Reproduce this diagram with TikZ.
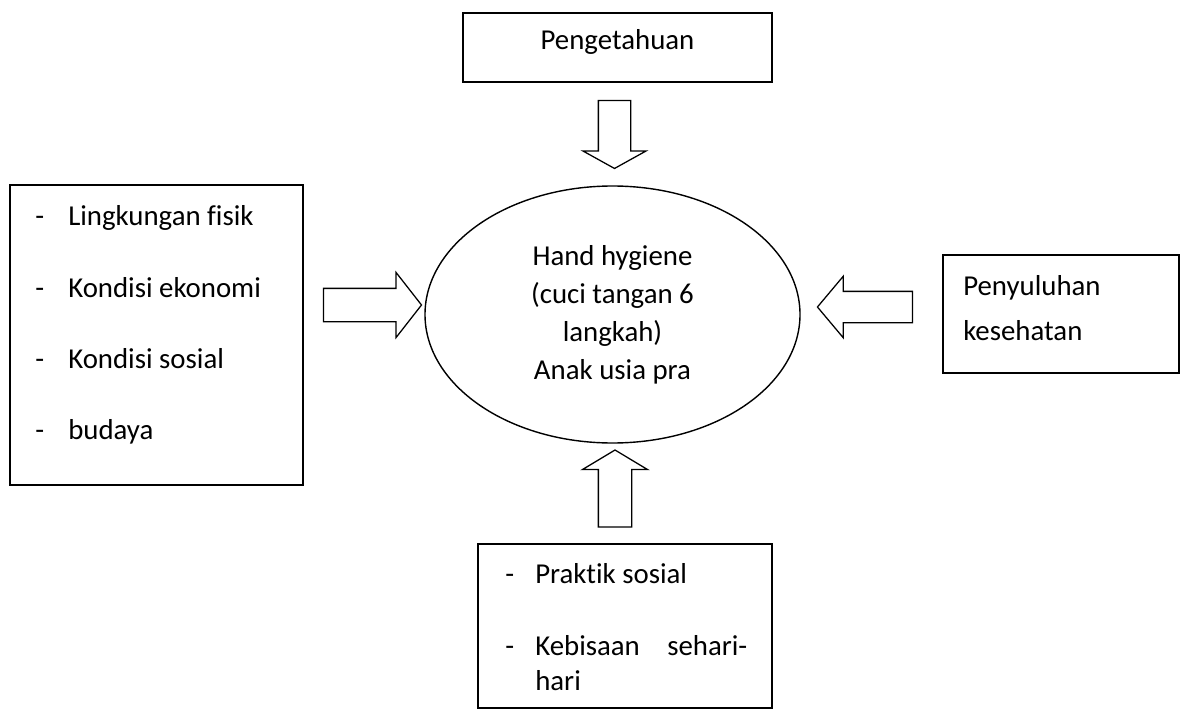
\documentclass[tikz,border=0pt]{standalone}
\usepackage{fontspec}
\setmainfont{Carlito}[Ligatures=NoCommon]
\usetikzlibrary{shapes.geometric,shapes.arrows}
\newcommand{\pxl}{0.025cm}
\newcommand{\butir}[2]{\makebox[#1][l]{-}#2}

\begin{document}
\begin{tikzpicture}[x=0.025cm,y=-0.025cm,
  font=\fontsize{20.5}{25}\selectfont,
  kotak/.style={draw,line width=1pt,inner sep=0pt},
  teks/.style={anchor=base west,inner sep=0pt},
  panah/.style={draw,line width=0.9pt,single arrow,single arrow head indent=0pt,inner xsep=0pt}]
\useasboundingbox (0,0) rectangle (1184,709);
% kotak
\node[kotak,minimum width=309*\pxl,minimum height=69*\pxl] (pengetahuan) at (617.5,47.5) {};
\node[kotak,minimum width=293*\pxl,minimum height=300*\pxl] (faktor) at (156.5,335) {};
\node[kotak,minimum width=236*\pxl,minimum height=118*\pxl] (penyuluhan) at (1061,314) {};
\node[kotak,minimum width=294*\pxl,minimum height=164*\pxl] (praktik) at (625,626) {};
\node[kotak,ellipse,minimum width=375*\pxl,minimum height=257*\pxl,align=center,
  font=\fontsize{20.5}{27}\selectfont] (hygiene) at (612.5,314.5)
  {Hand hygiene\\(cuci tangan 6\\langkah)\\Anak usia pra};
% teks
\path (617.5,50) node[anchor=base,inner sep=0pt](t0){Pengetahuan}
      (35,225) node[teks](l1){\butir{0.825cm}{Lingkungan fisik}}
      (35,297) node[teks](l2){\butir{0.825cm}{Kondisi ekonomi}}
      (35,368) node[teks](l3){\butir{0.825cm}{Kondisi sosial}}
      (35,439) node[teks](l4){\butir{0.825cm}{budaya}}
      (963,295) node[teks](r1){Penyuluhan}
      (963,340) node[teks](r2){kesehatan}
      (505,583) node[teks](b1){\butir{0.75cm}{Praktik sosial}}
      (505,655) node[teks](b2){\butir{0.75cm}{\makebox[5.3cm][s]{Kebisaan sehari-}}}
      (535,690) node[teks](b3){hari};
% panah
\node[panah,minimum height=98*\pxl,inner ysep=16*\pxl,single arrow head extend=16*\pxl,
  single arrow tip angle=104] (pkiri) at (366,305) {};
\node[panah,rotate=180,minimum height=95*\pxl,inner ysep=15*\pxl,single arrow head extend=15*\pxl,
  single arrow tip angle=100] (pkanan) at (871.5,307) {};
\node[panah,rotate=-90,minimum height=68*\pxl,inner ysep=15.5*\pxl,single arrow head extend=15.5*\pxl,
  single arrow tip angle=122] (patas) at (614.5,130) {};
\node[panah,rotate=90,minimum height=77*\pxl,inner ysep=16*\pxl,single arrow head extend=16*\pxl,
  single arrow tip angle=118] (pbawah) at (615,493.5) {};
\end{tikzpicture}
\end{document}
